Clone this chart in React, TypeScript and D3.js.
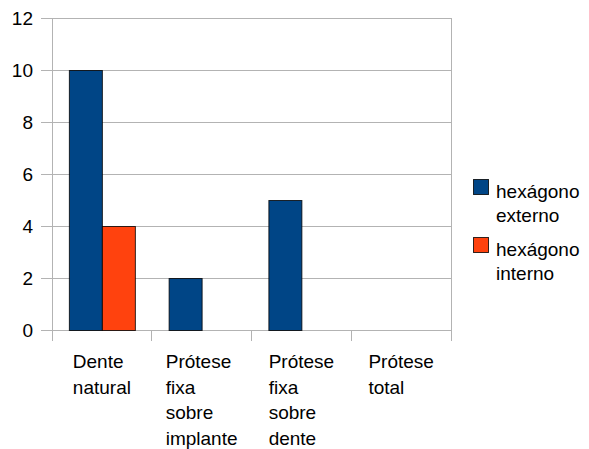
import React from "react";
import * as d3 from "d3";

const categories: string[][] = [
  ["Dente", "natural"],
  ["Prótese", "fixa", "sobre", "implante"],
  ["Prótese", "fixa", "sobre", "dente"],
  ["Prótese", "total"],
];
const seriesNames = ["hexágono externo", "hexágono interno"];
const legendLines = [["hexágono", "externo"], ["hexágono", "interno"]];
const externo = [10, 2, 5, 0];
const interno = [4, 0, 0, 0];
const yTicks = [0, 2, 4, 6, 8, 10, 12];
const colors = ["#004586", "#ff420e"];

const W = 589, H = 449;
const left = 52, right = 451, top = 18, bottom = 330;
const FONT = "Liberation Sans, Arial, sans-serif";
const FS = 19;

function textWidth(s: string): number {
  // rough Arial metrics
  const m: Record<string, number> = {
    D: 0.722, P: 0.667, a: 0.556, b: 0.556, c: 0.5, d: 0.556, e: 0.556, f: 0.278, g: 0.556,
    h: 0.556, i: 0.222, l: 0.222, m: 0.833, n: 0.556, o: 0.556, p: 0.556, r: 0.333, s: 0.5,
    t: 0.278, u: 0.556, x: 0.5, "ó": 0.556, "á": 0.556,
  };
  let w = 0;
  for (const ch of s) w += m[ch] ?? 0.556;
  return w * FS;
}

export default function App() {
  const x = d3.scaleBand<number>().domain(d3.range(categories.length)).range([left, right]).paddingInner(0).paddingOuter(0);
  const y = d3.scaleLinear().domain([0, 12]).range([bottom, top]);
  const barW = 33;
  const data = [externo, interno];

  return (
    <svg width={W} height={H} style={{ position: "absolute", left: 0, top: 0, background: "#fff" }} fontFamily={FONT}>
      <rect x={0} y={0} width={W} height={H} fill="#fff" />
      {yTicks.map((t) => (
        <g key={t}>
          <line x1={left - 11} x2={right} y1={y(t)} y2={y(t)} stroke="#b3b3b3" strokeWidth={1} shapeRendering="crispEdges" />
          <text x={33} y={y(t)} dy="0.35em" textAnchor="end" fontSize={FS} fill="#000">{t}</text>
        </g>
      ))}
      <line x1={left} x2={left} y1={top} y2={bottom + 11} stroke="#b3b3b3" shapeRendering="crispEdges" />
      <line x1={right} x2={right} y1={top} y2={bottom + 11} stroke="#b3b3b3" shapeRendering="crispEdges" />
      {categories.map((_, i) => (
        <line key={i} x1={x(i)!} x2={x(i)!} y1={bottom} y2={bottom + 11} stroke="#b3b3b3" shapeRendering="crispEdges" />
      ))}
      {data.map((vals, s) =>
        vals.map((v, i) => {
          if (v === 0) return null;
          const cx = x(i)! + x.bandwidth() / 2;
          const bx = cx - barW + s * barW;
          return (
            <rect key={`${s}-${i}`} x={bx + 0.5} y={y(v) + 0.5} width={barW} height={y(0) - y(v)} fill={colors[s]} stroke="#000" strokeOpacity={0.8} strokeWidth={1} />
          );
        })
      )}
      {categories.map((lines, i) => {
        const cx = x(i)! + x.bandwidth() / 2;
        const bw = Math.max(...lines.map(textWidth));
        return (
          <text key={i} fontSize={FS} fill="#000">
            {lines.map((l, j) => (
              <tspan key={j} x={cx - bw / 2} y={368 + j * 25.7}>{l}</tspan>
            ))}
          </text>
        );
      })}
      {seriesNames.map((n, s) => (
        <g key={n}>
          <rect x={473.5} y={179.5 + s * 58} width={15} height={15} fill={colors[s]} stroke="#000" strokeOpacity={0.8} />
          <text fontSize={FS} fill="#000">
            {legendLines[s].map((l, j) => (
              <tspan key={j} x={496} y={198 + s * 58 + j * 24}>{l}</tspan>
            ))}
          </text>
        </g>
      ))}
    </svg>
  );
}
